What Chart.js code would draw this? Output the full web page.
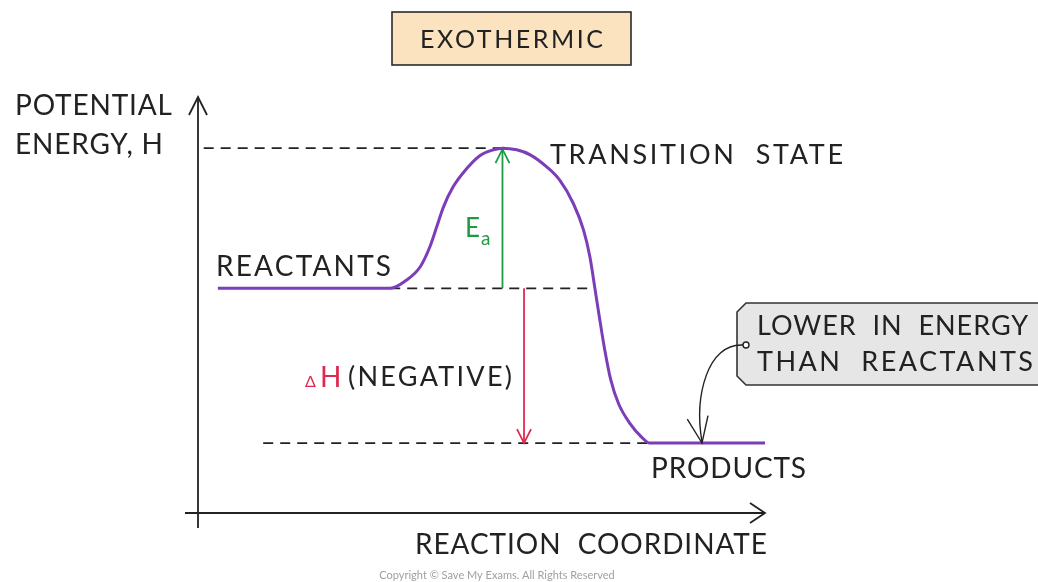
<!DOCTYPE html>
<html>
<head>
<meta charset="utf-8">
<script src="https://cdn.jsdelivr.net/npm/chart.js@4.4.0/dist/chart.umd.min.js"></script>
<style>
  html, body { margin: 0; padding: 0; background: #ffffff; }
  #energyChart { display: block; }
</style>
</head>
<body>
<canvas id="energyChart" width="1038" height="582"></canvas>
<script>
// reaction profile (arbitrary units, axes 0..100)
var reactionCoord = [3.5, 33.9, 36.8, 39.2, 40.9, 42.1, 43.3, 45.0, 47.4, 49.7, 52.1, 53.7, 56.2, 58.6, 61.5, 63.8, 66.2, 68.0, 69.1, 70.0, 70.8, 71.7, 72.8, 74.2, 76.2, 78.2, 79.7, 100];
var potentialEnergy = [54, 54, 56.0, 59.2, 64.0, 68.8, 73.6, 78.4, 82.8, 85.9, 87.3, 87.7, 87.3, 86.1, 83.2, 80.0, 74.4, 68.0, 61.7, 54.0, 47.0, 39.5, 32.0, 26.2, 21.5, 18.3, 16.8, 16.8];

// energy levels and where the guide lines sit
var reactantsLevel = 54;
var transitionLevel = 87.7;
var productsLevel = 16.8;
var transitionX = 53.7;
var deltaHX = 57.5;

var PURPLE = '#7b3db8';
var GREEN = '#1f9a44';
var RED = '#e0284f';
var INK = '#222222';
var FONT = 'Lato, "Open Sans", "DejaVu Sans", sans-serif';

var points = reactionCoord.map(function(x, i) {
    return { x: x, y: potentialEnergy[i] };
});

// draw a line of text and stretch its letter spacing to a given width
function label(ctx, text, x, y, size, width, color, baseline) {
    ctx.save();
    ctx.font = size + 'px ' + FONT;
    ctx.letterSpacing = '0px';
    var w = ctx.measureText(text).width;
    if (width && text.length > 1) {
        ctx.letterSpacing = ((width - w) / (text.length - 1)) + 'px';
    }
    ctx.fillStyle = color || INK;
    ctx.textAlign = 'left';
    ctx.textBaseline = baseline || 'middle';
    ctx.fillText(text, x, y);
    ctx.restore();
}

function dashed(ctx, x1, y1, x2, y2) {
    ctx.save();
    ctx.strokeStyle = INK;
    ctx.lineWidth = 1.6;
    ctx.setLineDash([10, 7]);
    ctx.beginPath();
    ctx.moveTo(x1, y1);
    ctx.lineTo(x2, y2);
    ctx.stroke();
    ctx.restore();
}

// open "V" arrow head, tip at (x, y), pointing along (dx, dy)
function head(ctx, x, y, dx, dy, len, half, color, lw) {
    var n = Math.sqrt(dx * dx + dy * dy);
    dx /= n; dy /= n;
    ctx.save();
    ctx.strokeStyle = color;
    ctx.lineWidth = lw;
    ctx.beginPath();
    ctx.moveTo(x - dx * len - dy * half, y - dy * len + dx * half);
    ctx.lineTo(x, y);
    ctx.lineTo(x - dx * len + dy * half, y - dy * len - dx * half);
    ctx.stroke();
    ctx.restore();
}

function arrow(ctx, x1, y1, x2, y2, color) {
    ctx.save();
    ctx.strokeStyle = color;
    ctx.lineWidth = 1.8;
    ctx.beginPath();
    ctx.moveTo(x1, y1);
    ctx.lineTo(x2, y2);
    ctx.stroke();
    ctx.restore();
    head(ctx, x2, y2, x2 - x1, y2 - y1, 14, 7, color, 1.8);
}

var guidesPlugin = {
    id: 'guides',
    beforeDatasetsDraw: function(chart) {
        var ctx = chart.ctx;
        var xs = chart.scales.x;
        var ys = chart.scales.y;
        var area = chart.chartArea;

        // axes
        ctx.save();
        ctx.strokeStyle = INK;
        ctx.lineWidth = 1.8;
        ctx.beginPath();
        ctx.moveTo(area.left, area.top);
        ctx.lineTo(area.left, area.bottom + 15);
        ctx.moveTo(area.left - 13, area.bottom);
        ctx.lineTo(area.right, area.bottom);
        ctx.stroke();
        ctx.restore();
        head(ctx, area.left, area.top, 0, -1, 18, 9, INK, 1.8);
        head(ctx, area.right, area.bottom, 1, 0, 15, 10, INK, 1.8);

        // dashed level lines
        var yT = ys.getPixelForValue(transitionLevel);
        var yR = ys.getPixelForValue(reactantsLevel);
        var yP = ys.getPixelForValue(productsLevel);
        dashed(ctx, xs.getPixelForValue(1), yT, xs.getPixelForValue(transitionX), yT);
        dashed(ctx, xs.getPixelForValue(33.9), yR, xs.getPixelForValue(70), yR);
        dashed(ctx, xs.getPixelForValue(11.5), yP, xs.getPixelForValue(79.7), yP);

        // Ea and delta H arrows
        var xE = xs.getPixelForValue(transitionX);
        arrow(ctx, xE, yR, xE, yT + 1, GREEN);
        var xH = xs.getPixelForValue(deltaHX);
        arrow(ctx, xH, yR, xH, yP, RED);
    },
    afterDraw: function(chart) {
        var ctx = chart.ctx;

        // title box
        ctx.save();
        ctx.fillStyle = '#fbe3bf';
        ctx.strokeStyle = '#2a2a2a';
        ctx.lineWidth = 1.6;
        ctx.fillRect(392, 12, 239, 53);
        ctx.strokeRect(392, 12, 239, 53);
        ctx.restore();
        label(ctx, 'EXOTHERMIC', 420, 40, 25, 183);

        label(ctx, 'POTENTIAL', 15, 106, 28, 157);
        label(ctx, 'ENERGY, H', 15, 145, 28, 148);
        label(ctx, 'TRANSITION  STATE', 550, 155, 27, 293);
        label(ctx, 'REACTANTS', 216, 267, 28, 175);
        label(ctx, 'PRODUCTS', 651, 469, 28, 155);
        label(ctx, 'REACTION  COORDINATE', 415, 545, 28, 352);

        label(ctx, 'E', 465, 229, 26, 0, GREEN);
        label(ctx, 'a', 481, 239, 19, 0, GREEN);
        label(ctx, '\u0394', 305, 387, 16, 0, RED, 'alphabetic');
        label(ctx, 'H', 320, 387, 28, 0, RED, 'alphabetic');
        label(ctx, '(NEGATIVE)', 348, 377, 27, 164);

        // callout
        ctx.save();
        ctx.fillStyle = '#e6e6e6';
        ctx.strokeStyle = '#333333';
        ctx.lineWidth = 1.6;
        ctx.beginPath();
        ctx.moveTo(746, 303);
        ctx.lineTo(1045, 303);
        ctx.lineTo(1045, 385);
        ctx.lineTo(746, 385);
        ctx.lineTo(737, 376);
        ctx.lineTo(737, 312);
        ctx.closePath();
        ctx.fill();
        ctx.stroke();
        ctx.restore();
        label(ctx, 'LOWER  IN  ENERGY', 757, 326, 27, 271);
        label(ctx, 'THAN  REACTANTS', 757, 362, 27, 276);

        // curved pointer to the products line
        ctx.save();
        ctx.strokeStyle = INK;
        ctx.lineWidth = 1.4;
        ctx.beginPath();
        ctx.moveTo(743, 345);
        ctx.bezierCurveTo(708, 343, 694, 395, 702, 442);
        ctx.stroke();
        ctx.fillStyle = '#ffffff';
        ctx.beginPath();
        ctx.arc(746, 345, 3, 0, Math.PI * 2);
        ctx.fill();
        ctx.stroke();
        ctx.restore();
        head(ctx, 702, 443, 0.17, 1, 26, 10.5, INK, 1.4);

        ctx.save();
        ctx.font = '11px ' + FONT;
        ctx.fillStyle = '#a0a0a0';
        ctx.textAlign = 'center';
        ctx.textBaseline = 'middle';
        ctx.fillText('Copyright \u00a9 Save My Exams. All Rights Reserved', 497, 575);
        ctx.restore();
    }
};

var ctx = document.getElementById('energyChart').getContext('2d');
new Chart(ctx, {
    type: 'line',
    data: {
        datasets: [{
            data: points,
            borderColor: PURPLE,
            borderWidth: 3,
            pointRadius: 0,
            fill: false,
            cubicInterpolationMode: 'monotone',
            clip: false
        }]
    },
    options: {
        responsive: false,
        devicePixelRatio: 1,
        animation: false,
        events: [],
        layout: { padding: { left: 198, right: 273, top: 97, bottom: 69 } },
        scales: {
            x: { type: 'linear', min: 0, max: 100, display: false },
            y: { type: 'linear', min: 0, max: 100, display: false }
        },
        plugins: {
            legend: { display: false },
            tooltip: { enabled: false }
        }
    },
    plugins: [guidesPlugin]
});
</script>
</body>
</html>
